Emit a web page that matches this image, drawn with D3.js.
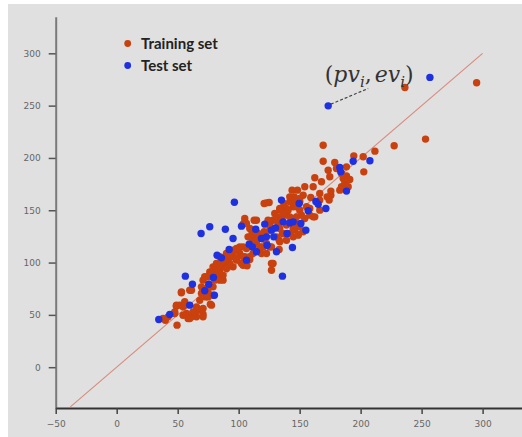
<!DOCTYPE html>
<html>
<head>
<meta charset="utf-8">
<script src="https://cdn.jsdelivr.net/npm/d3@7"></script>
<style>
  html, body { margin: 0; padding: 0; background: #ffffff; }
  svg { display: block; }
</style>
</head>
<body>
<svg id="chart" width="522" height="437"></svg>
<script>
// ---- data (predicted value, experimental value) ----
const trainingSet = [
  [236.3,267.4],[295.1,271.8],[253.2,218.0],[227.5,211.6],[211.7,206.5],[202.1,201.1],[202.6,186.7],[194.4,202.0],
  [169.3,212.2],[169.3,196.9],[167.9,177.2],[173.4,188.3],[174.7,182.0],[178.8,195.7],[188.4,191.5],[188.4,182.9],
  [187.0,175.6],[182.9,169.2],[185.7,180.4],[162.4,181.0],[161.1,172.4],[166.5,166.0],[174.2,159.7],[175.6,164.4],
  [154.2,172.4],[152.9,164.4],[148.2,169.2],[145.5,162.8],[144.7,153.3],[141.9,158.1],[139.2,148.5],[137.0,156.5],
  [137.8,145.3],[133.7,143.7],[132.4,137.3],[128.2,140.5],[125.5,135.8],[122.8,157.1],[125.0,157.4],[120.9,156.5],
  [114.6,140.5],[112.7,140.5],[110.5,131.0],[105.0,138.9],[103.6,136.7],[111.8,126.2],[107.7,124.6],[111.8,121.4],
  [106.4,113.4],[105.0,105.5],[109.1,102.9],[103.6,97.5],[106.9,96.9],[102.3,99.1],[98.2,102.3],[95.4,95.9],
  [92.7,97.5],[90.5,103.9],[87.2,99.1],[84.5,92.7],[87.2,83.2],[83.1,88.0],[80.4,83.2],[79.0,95.9],
  [76.3,91.1],[74.1,86.4],[70.8,83.2],[69.5,76.8],[69.5,70.4],[73.0,67.2],[70.8,56.1],[76.8,60.2],
  [70.8,50.7],[64.0,51.3],[61.3,48.1],[58.5,46.5],[57.2,51.3],[54.4,57.7],[51.7,59.3],[48.9,58.3],
  [49.5,40.2],[47.6,51.3],[53.0,71.1],[59.9,73.6],[65.4,48.1],[42.1,48.1],[39.9,44.9],[38.0,46.5],
  [126.9,99.1],[126.9,92.7],[128.2,99.1],[133.2,112.5],[133.2,121.4],[135.9,127.8],[139.2,121.4],[142.5,127.8],
  [144.7,124.6],[146.0,131.6],[147.4,137.3],[148.8,126.8],[151.5,145.3],[154.2,142.1],[158.3,151.7],[162.4,143.7],
  [166.5,150.1],[141.9,162.8],[143.8,169.2],[146.0,159.7],[150.1,158.1],[133.7,150.7],[129.6,146.9],[120.0,115.0],
  [118.7,108.7],[122.8,108.7],[125.5,115.0],[117.3,126.2],[120.9,129.4],[124.1,140.5],[114.6,118.2],[115.9,127.8],
  [109.1,132.6],[100.9,115.0],[98.2,113.4],[94.1,108.7],[92.7,105.5],[90.0,95.9],[85.9,103.9],[81.8,99.1],
  [84.5,105.5],[79.0,76.8],[74.9,72.0],[65.4,57.7],[55.8,62.5],[68.1,54.5],[180.2,189.9],[184.3,185.1],
  [191.1,179.4],[189.8,172.4],[159.1,162.2],[166.5,159.7],[147.4,153.3],[139.2,151.7],[141.9,143.7],[175.6,168.3],
  [172.5,162.8],[184.3,172.4],
  [150.1,161.3],[133.7,151.7],[140.5,150.1],[136.5,146.9],[131.0,143.7],[135.1,140.5],[150.1,150.1],[155.6,153.3],
  [158.3,145.3],[161.1,143.7],[147.4,143.7],[139.2,135.8],[133.7,132.6],[136.5,127.8],[131.0,124.6],[125.5,131.0],
  [121.4,127.8],[111.8,131.0],[109.1,124.6],[114.6,121.4],[117.3,115.0],[122.8,118.2],[126.9,115.0],[133.7,119.8],
  [103.6,115.0],[100.9,108.7],[95.4,105.5],[98.2,111.8],[109.1,105.5],[111.8,108.7],[92.7,99.1],[84.5,95.9],
  [79.0,92.7],[76.3,86.4],[105.0,142.1],[106.4,137.3],[150.1,134.2],[144.7,132.6],[152.9,129.4],[148.8,126.2],
  [53.1,72.0],[61.3,73.6],[55.8,59.3],[49.0,59.3],[47.6,52.9],[54.4,49.7],[59.9,46.5],[65.4,54.5],
  [70.8,48.1],[77.7,59.3],[68.1,64.0],[74.9,67.2],[79.0,68.8],[70.8,73.6],[74.9,76.8],[72.2,86.4],
  [77.7,89.6],[81.8,92.7],[84.5,97.5],[88.6,100.7],[90.0,108.7],[95.4,111.8],[87.2,88.0],[84.5,83.2],
  [90.0,94.4],[98.2,103.9],[92.7,107.0],[103.6,105.5],[62.6,52.9]
];
const testSet = [
  [34.5,45.6],[43.5,50.3],[56.3,87.0],[62.1,79.3],[59.9,59.3],[69.2,127.8],[76.3,134.2],[72.2,73.0],
  [75.5,79.3],[80.1,68.8],[79.3,85.7],[82.3,107.0],[85.9,104.5],[89.1,131.9],[92.2,112.5],[95.4,123.0],
  [96.5,157.7],[102.3,134.8],[106.4,102.3],[108.6,117.6],[111.3,115.0],[114.0,131.9],[114.6,110.3],[118.7,123.0],
  [121.4,136.7],[122.8,124.6],[126.9,131.0],[128.8,124.6],[130.2,133.1],[131.0,110.3],[135.9,87.0],[135.1,159.7],
  [136.5,138.9],[139.7,127.8],[141.9,137.9],[144.1,114.4],[144.7,138.9],[149.6,156.4],[151.0,137.4],[155.1,131.0],
  [157.0,149.5],[163.3,158.4],[165.2,155.8],[171.5,151.7],[173.4,249.8],[182.9,190.9],[183.7,186.7],[188.4,168.3],
  [193.9,196.9],[207.6,197.3],[256.8,277.0],[123.3,116.6]
];
const identityLine = [[-38, -38], [300, 300]];
const xTicks = [-50, 0, 50, 100, 150, 200, 250, 300];
const yTicks = [0, 50, 100, 150, 200, 250, 300];
const legendLabels = ["Training set", "Test set"];
const annotationLeader = [[175.6, 251.4], [206.2, 266.4]];
const annotationAnchor = [170.6, 272.5];

// ---- drawing ----
const svg = d3.select("#chart");
const W = 522, H = 437;
const colors = { train: "#c9410f", test: "#1f30e0", line: "#d98a7c" };

svg.append("rect").attr("x", 8).attr("y", 4).attr("width", W - 8).attr("height", H - 4).attr("fill", "#e0e0e0");

const x = d3.scaleLinear().domain([-50, 332.3]).range([55.7, 522]);
const y = d3.scaleLinear().domain([-39, 335]).range([408, 16.7]);

// y axis
const gy = svg.append("g").attr("transform", `translate(${x(-50)},0)`)
  .call(d3.axisLeft(y).tickValues(yTicks).tickSize(7).tickSizeOuter(0).tickPadding(8));
gy.select(".domain").attr("stroke", "#7a7a7a").attr("stroke-width", 2);
gy.selectAll(".tick line").attr("stroke", "#555").attr("stroke-width", 1.5);
gy.selectAll(".tick text").attr("fill", "#666").attr("font-family", "DejaVu Sans, sans-serif").attr("font-size", 9);

// x axis
const gx = svg.append("g").attr("transform", `translate(0,${y(-39)})`)
  .call(d3.axisBottom(x).tickValues(xTicks).tickSize(6).tickSizeOuter(0).tickPadding(7));
gx.select(".domain").attr("stroke", "#333").attr("stroke-width", 2);
gx.selectAll(".tick line").attr("stroke", "#444").attr("stroke-width", 1.5);
gx.selectAll(".tick text").attr("fill", "#666").attr("font-family", "DejaVu Sans, sans-serif").attr("font-size", 9);

// identity line
svg.append("path")
  .attr("d", d3.line().x(d => x(d[0])).y(d => y(d[1]))(identityLine))
  .attr("stroke", colors.line).attr("stroke-width", 1.1).attr("fill", "none");

// points
svg.append("g").selectAll("circle").data(trainingSet).join("circle")
  .attr("cx", d => x(d[0])).attr("cy", d => y(d[1])).attr("r", 3.7)
  .attr("fill", colors.train);
svg.append("g").selectAll("circle").data(testSet).join("circle")
  .attr("cx", d => x(d[0])).attr("cy", d => y(d[1])).attr("r", 3.7)
  .attr("fill", colors.test);

// legend
const legend = svg.append("g");
legendLabels.forEach((lab, i) => {
  const cy = 43.5 + i * 22;
  legend.append("circle").attr("cx", 127.7).attr("cy", cy).attr("r", 3.4)
    .attr("fill", i === 0 ? colors.train : colors.test);
  legend.append("text").attr("x", 141).attr("y", cy + 5)
    .attr("font-family", "Lato, sans-serif").attr("font-weight", "bold").attr("font-size", 15)
    .attr("fill", "#222").text(lab);
});

// annotation
svg.append("path")
  .attr("d", d3.line().x(d => x(d[0])).y(d => y(d[1]))(annotationLeader))
  .attr("stroke", "#444").attr("stroke-width", 1.2).attr("stroke-dasharray", "3,2").attr("fill", "none");

const t = svg.append("text").attr("x", x(annotationAnchor[0])).attr("y", y(annotationAnchor[1]))
  .attr("font-family", "DejaVu Serif, serif").attr("font-size", 22).attr("fill", "#333");
t.append("tspan").text("(");
t.append("tspan").attr("font-style", "italic").text("pv");
t.append("tspan").attr("font-style", "italic").attr("font-size", 15).attr("dy", 5).text("i");
t.append("tspan").attr("dy", -5).text(",");
t.append("tspan").attr("font-style", "italic").attr("dx", 3).text("ev");
t.append("tspan").attr("font-style", "italic").attr("font-size", 15).attr("dy", 5).text("i");
t.append("tspan").attr("dy", -5).text(")");
</script>
</body>
</html>
